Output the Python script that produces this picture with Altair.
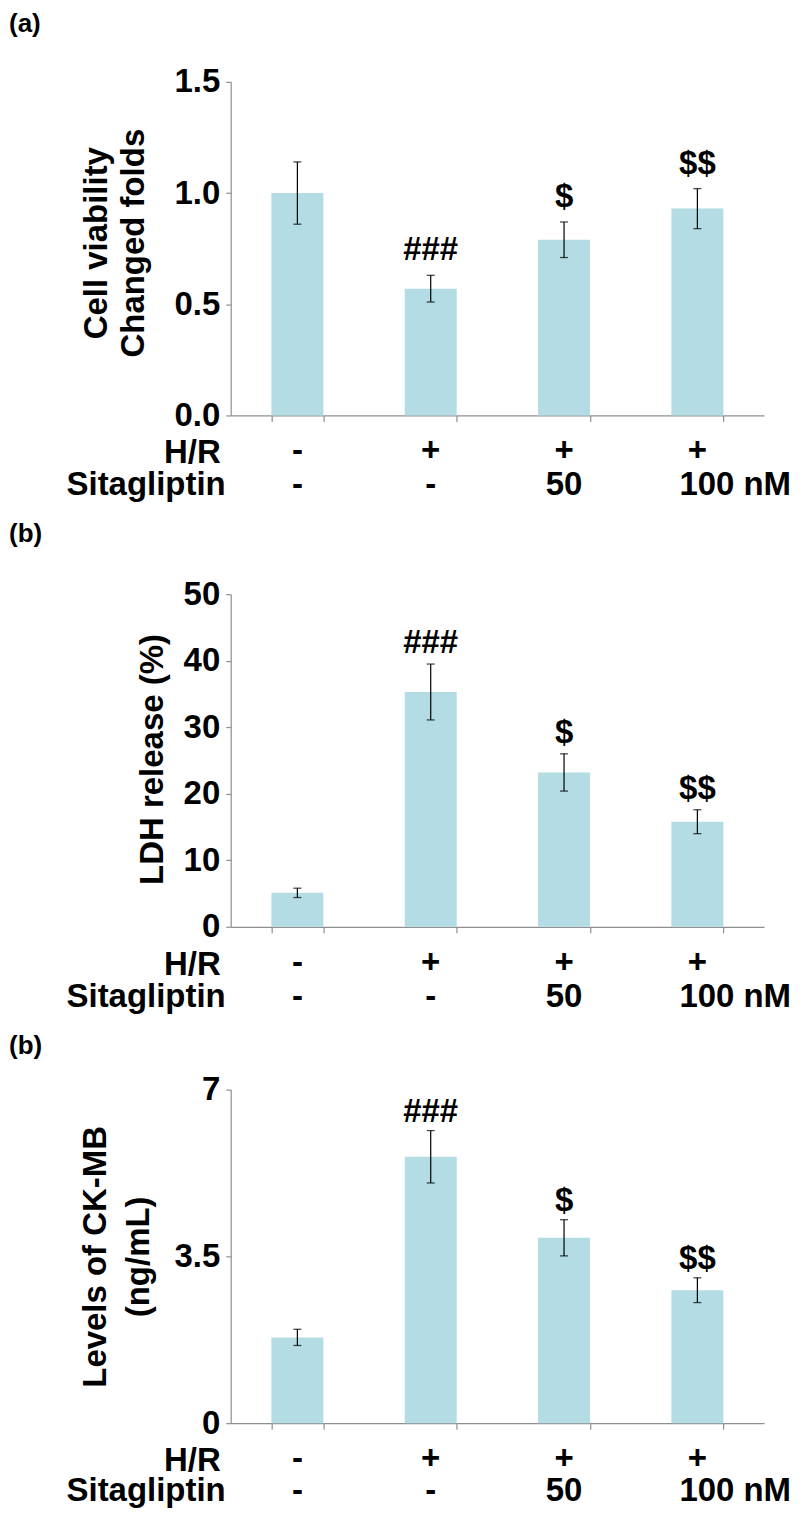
import altair as alt
import pandas as pd

# ---------------- data ----------------
groups = ["ctrl", "HR", "HR+50", "HR+100"]
hr_signs = ["-", "+", "+", "+"]
sita_doses = ["-", "-", "50", "100 nM"]
row_labels = ["H/R", "Sitagliptin"]

via_mean = [1.00, 0.57, 0.79, 0.93]
via_err = [0.14, 0.06, 0.08, 0.09]
via_marks = ["", "###", "$", "$$"]

ldh_mean = [5.1, 35.3, 23.2, 15.8]
ldh_err = [0.7, 4.2, 2.8, 1.8]
ldh_marks = ["", "###", "$", "$$"]

ck_mean = [1.80, 5.59, 3.89, 2.79]
ck_err = [0.17, 0.55, 0.38, 0.26]
ck_marks = ["", "###", "$", "$$"]

# ---------------- style ----------------
FONT = "Liberation Sans"
BAR = "#b3dce4"
GREY = "#8f8f8f"
W = 534
FS = 33


def panel(mean, err, marks, letter, ytitle, domain, ticks, fmt, h,
          title_x, title_y, title_lh, label_y, row2_y, ann_dy):
    df = pd.DataFrame({
        "group": groups,
        "mean": mean,
        "lo": [m - e for m, e in zip(mean, err)],
        "hi": [m + e for m, e in zip(mean, err)],
        "mark": marks,
        "hr": hr_signs,
        "sita": sita_doses,
    })
    base = alt.Chart(df)
    x = alt.X(
        "group:N", sort=groups,
        scale=alt.Scale(paddingInner=0.61, paddingOuter=0.305),
        axis=alt.Axis(title=None, labels=False, tickBand="extent", tickSize=6,
                      tickColor=GREY, domainColor=GREY, domainWidth=1.2,
                      tickWidth=1.2, grid=False),
    )
    xs = alt.X("group:N", sort=groups)
    yscale = alt.Scale(domain=domain, nice=False, zero=True)
    y = alt.Y(
        "mean:Q", scale=yscale,
        axis=alt.Axis(values=ticks, format=fmt, title=ytitle,
                      titleFont=FONT, titleFontSize=FS, titleFontWeight="bold",
                      titleColor="black", titleX=title_x, titleY=title_y,
                      titleAlign="center", titleBaseline="middle", titleAngle=270,
                      titleLineHeight=title_lh,
                      labelFont=FONT, labelFontSize=FS, labelFontWeight="bold",
                      labelColor="black", labelPadding=6, labelOverlap=False,
                      labelFlush=False, tickSize=5, tickColor=GREY, tickWidth=1.2,
                      domainColor=GREY, domainWidth=1.2, grid=False),
    )
    bars = base.mark_bar(color=BAR).encode(x=x, y=y)
    rule = base.mark_rule(color="black", strokeWidth=1.2).encode(
        x=xs, y=alt.Y("lo:Q", scale=yscale), y2="hi:Q")
    cap_hi = base.mark_tick(color="black", size=8, thickness=1.3).encode(
        x=xs, y=alt.Y("hi:Q", scale=yscale))
    cap_lo = base.mark_tick(color="black", size=8, thickness=1.3).encode(
        x=xs, y=alt.Y("lo:Q", scale=yscale))
    ann = base.mark_text(font=FONT, fontSize=FS, fontWeight="bold", color="black",
                         baseline="alphabetic", dy=ann_dy).encode(
        x=xs, y=alt.Y("hi:Q", scale=yscale), text="mark:N")

    row1 = base.mark_text(font=FONT, fontSize=FS, fontWeight="bold", color="black",
                          baseline="alphabetic").encode(
        x=xs, y=alt.value(h + 46), text="hr:N")
    row2 = base.transform_filter("datum.sita != '100 nM'").mark_text(
        font=FONT, fontSize=FS, fontWeight="bold", color="black",
        baseline="alphabetic").encode(
        x=xs, y=alt.value(h + row2_y), text="sita:N")
    row2b = base.transform_filter("datum.sita == '100 nM'").mark_text(
        font=FONT, fontSize=FS, fontWeight="bold", color="black",
        baseline="alphabetic", align="left", dx=-18).encode(
        x=xs, y=alt.value(h + row2_y), text="sita:N")

    one = alt.Chart(pd.DataFrame({"t": [letter], "r1": [row_labels[0]], "r2": [row_labels[1]]}))
    lab = one.mark_text(font=FONT, fontSize=26, fontWeight="bold", color="black",
                        align="left", baseline="alphabetic").encode(
        x=alt.value(-222), y=alt.value(label_y), text="t:N")
    rl1 = one.mark_text(font=FONT, fontSize=FS, fontWeight="bold", color="black",
                        align="right", baseline="alphabetic").encode(
        x=alt.value(-10), y=alt.value(h + 48), text="r1:N")
    rl2 = one.mark_text(font=FONT, fontSize=FS, fontWeight="bold", color="black",
                        align="right", baseline="alphabetic").encode(
        x=alt.value(-5), y=alt.value(h + row2_y), text="r2:N")

    return alt.layer(bars, rule, cap_hi, cap_lo, ann, row1, row2, row2b,
                     lab, rl1, rl2).properties(width=W, height=h)


pa = panel(via_mean, via_err, via_marks, "(a)", ["Cell viability", "Changed folds"],
           [0, 1.5], [0, 0.5, 1.0, 1.5], ".1f", 334,
           -134, 161, 37, -50, 80, -15)
pb = panel(ldh_mean, ldh_err, ldh_marks, "(b)", "LDH release (%)",
           [0, 50], [0, 10, 20, 30, 40, 50], "d", 333,
           -78, 165, 37, -52, 80, -11)
pc = panel(ck_mean, ck_err, ck_marks, "(b)", ["Levels of CK-MB", "(ng/mL)"],
           [0, 7], [0, 3.5, 7], ".1~f", 334,
           -135, 167, 43, -36, 78, -9)

chart = alt.vconcat(pa, pb, pc, spacing=17).properties(
    padding={"left": 0, "top": 1, "right": 0, "bottom": 0}
).configure_view(stroke="transparent")

chart.save("out.html", embed_options={"renderer": "svg", "actions": False})
